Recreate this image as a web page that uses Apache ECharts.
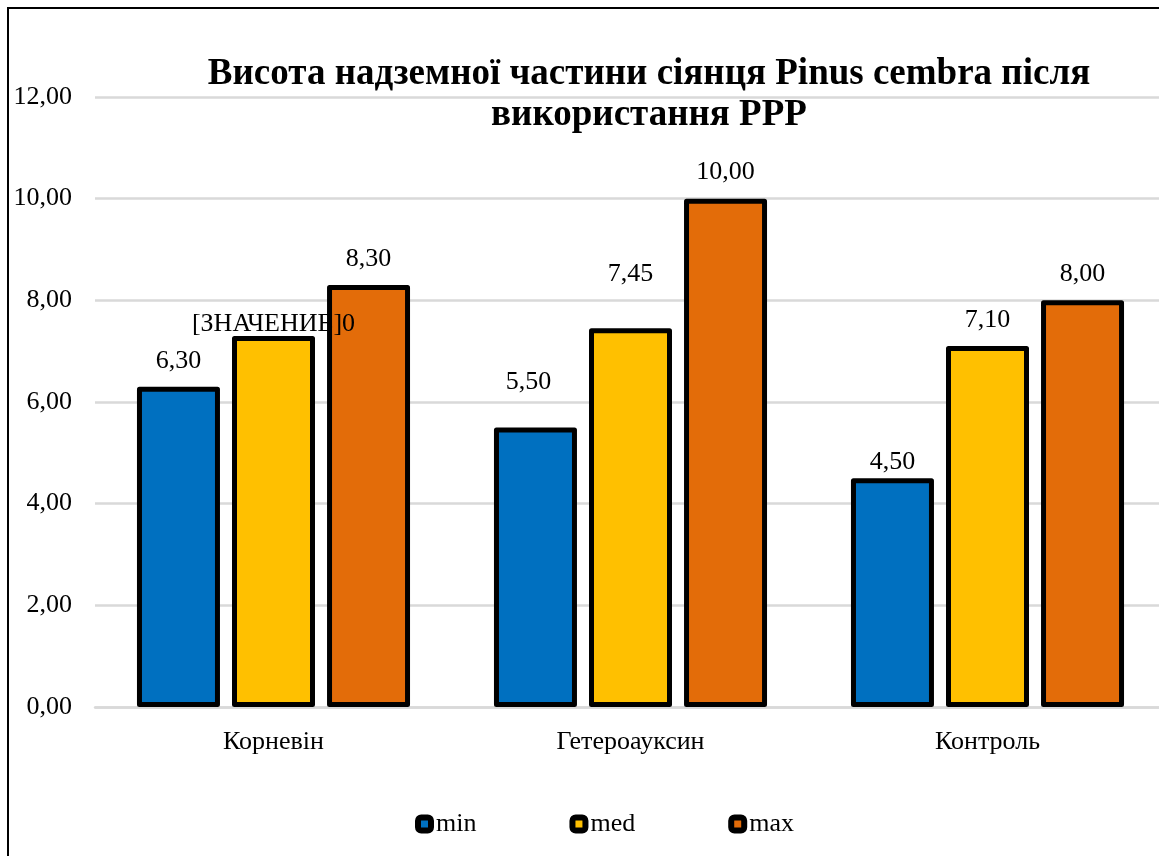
<!DOCTYPE html>
<html>
<head>
<meta charset="utf-8">
<script src="https://cdn.jsdelivr.net/npm/echarts@6/dist/echarts.min.js"></script>
<style>html,body{margin:0;padding:0;background:#fff}#c{width:1159px;height:856px}</style>
</head>
<body>
<div id="c"></div>
<script>
const categories = ['Корневін', 'Гетероауксин', 'Контроль'];
const seriesNames = ['min', 'med', 'max'];
const minValues = [6.30, 5.50, 4.50];
const medValues = [7.30, 7.45, 7.10];
const maxValues = [8.30, 10.00, 8.00];
const yTicks = { min: 0, max: 12, interval: 2 };
const titleText = 'Висота надземної частини сіянця Pinus cembra після\nвикористання PPP';
// Label text overrides (as shown in the original)
const labelOverrides = { 'med-0': '[ЗНАЧЕНИЕ]0' };

// styling
const colors = ['#0070C0', '#FFC000', '#E36C09'];
const labelOffsets = { 'min-1': [-7, -19], 'med-1': [0, -28], 'med-0': [0, 14], 'min-2': [0, 10] };
const FONT = '"Liberation Serif", "Times New Roman", serif';

const fmt = v => v.toFixed(2).replace('.', ',');
const values = [minValues, medValues, maxValues];

const series = seriesNames.map((name, si) => ({
  name,
  type: 'bar',
  barWidth: 83,
  barGap: '14.5%',
  itemStyle: { color: colors[si], borderColor: '#000', borderWidth: 5, borderJoin: 'round' },
  label: { show: true, position: 'top', distance: 13, fontFamily: FONT, fontSize: 26, color: '#000' },
  data: values[si].map((v, ci) => {
    const key = name + '-' + ci;
    const item = { value: v };
    const lbl = {};
    if (labelOffsets[key]) lbl.offset = labelOffsets[key];
    lbl.formatter = labelOverrides[key] ? labelOverrides[key] : fmt(v);
    item.label = lbl;
    return item;
  })
}));

const chart = echarts.init(document.getElementById('c'));
chart.setOption({
  backgroundColor: '#fff',
  animation: false,
  title: {
    text: titleText,
    left: 644, top: 49, textAlign: 'center',
    textStyle: { fontFamily: FONT, fontWeight: 'bold', fontSize: 37, lineHeight: 41, color: '#000' }
  },
  legend: {
    data: seriesNames,
    top: 806, left: 410,
    itemWidth: 13, itemHeight: 13, itemGap: 93,
    icon: 'roundRect',
    itemStyle: { borderColor: '#000', borderWidth: 6 },
    textStyle: { fontFamily: FONT, fontSize: 26, color: '#000', padding: [0, 0, 0, 0] }
  },
  grid: { left: 95, right: -7, top: 97, bottom: 149, containLabel: false, outerBoundsMode: 'none' },
  xAxis: {
    type: 'category', data: categories,
    axisLine: { lineStyle: { color: '#D9D9D9', width: 2.5 } },
    axisTick: { show: false },
    axisLabel: { fontFamily: FONT, fontSize: 26, color: '#000', margin: 22 }
  },
  yAxis: {
    type: 'value', min: yTicks.min, max: yTicks.max, interval: yTicks.interval,
    axisLine: { show: false }, axisTick: { show: false },
    splitLine: { lineStyle: { color: '#D9D9D9', width: 2.5 } },
    axisLabel: { fontFamily: FONT, fontSize: 26, color: '#000', margin: 23, formatter: v => fmt(v) }
  },
  graphic: [{
    type: 'rect', z: 100, silent: true,
    shape: { x: 8, y: 8, width: 1200, height: 900 },
    style: { fill: 'none', stroke: '#000', lineWidth: 2 }
  }],
  series
});
</script>
</body>
</html>
